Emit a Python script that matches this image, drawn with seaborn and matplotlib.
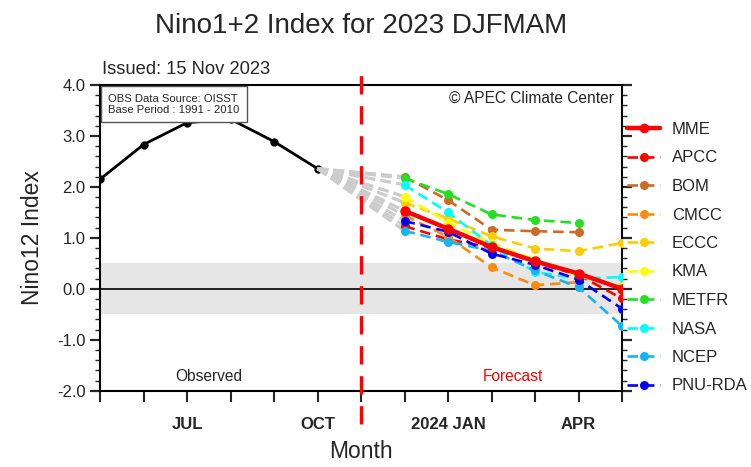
import numpy as np
import pandas as pd
import matplotlib
matplotlib.use("Agg")
import matplotlib.pyplot as plt
import seaborn as sns
from matplotlib.lines import Line2D
from matplotlib.ticker import MultipleLocator

# ---------------- data ----------------
month_pos = list(range(13))          # May 2023 ... May 2024
tick_labels = ["", "", "JUL", "", "", "OCT", "", "", "2024 JAN", "", "", "APR", ""]

obs_months = [0, 1, 2, 3, 4, 5]
obs_values = [2.15, 2.83, 3.26, 3.33, 2.89, 2.36]

fc_months = [7, 8, 9, 10, 11, 12]     # D J F M A M
models = ["MME", "APCC", "BOM", "CMCC", "ECCC", "KMA", "METFR", "NASA", "NCEP", "PNU-RDA"]
mme    = [1.53, 1.18, 0.82, 0.54, 0.30, 0.00]
apcc   = [1.23, 0.97, 0.81, 0.52, 0.27, -0.19]
bom    = [2.20, 1.74, 1.16, 1.13, 1.11, np.nan]
cmcc   = [1.44, 1.02, 0.42, 0.07, 0.13, np.nan]
eccc   = [1.69, 1.38, 1.03, 0.79, 0.74, 0.90]
kma    = [1.81, 1.30, 0.89, 0.57, 0.25, 0.05]
metfr  = [2.17, 1.86, 1.46, 1.35, 1.29, np.nan]
nasa   = [2.04, 1.50, 0.85, 0.33, 0.20, 0.23]
ncep   = [1.14, 0.92, 0.75, 0.36, 0.03, -0.73]
pnurda = [1.33, 1.12, 0.69, 0.47, 0.18, -0.39]
model_values = [mme, apcc, bom, cmcc, eccc, kma, metfr, nasa, ncep, pnurda]
colors = ["#ff0000", "#ff0000", "#cd6a28", "#ff8c10", "#ffcc00", "#ffff00",
          "#22e022", "#00ffff", "#18b4ee", "#0000ee"]

# ---------------- style ----------------
sns.set_style("ticks")
plt.rcParams["font.family"] = ["Liberation Sans", "DejaVu Sans"]
plt.rcParams["axes.unicode_minus"] = False

W, H = 751, 467
fig = plt.figure(figsize=(W / 100, H / 100), dpi=100)
ax_l, ax_r, ax_t, ax_b = 100, 622, 85, 390.7
ax = fig.add_axes([ax_l / W, 1 - ax_b / H, (ax_r - ax_l) / W, (ax_b - ax_t) / H])

ax.set_xlim(0, 12)
ax.set_ylim(-2, 4)

# shaded normal band and zero line
ax.axhspan(-0.5, 0.5, color="#e6e6e6", zorder=0, lw=0)
ax.axhline(0, color="black", lw=1.2, zorder=1)

# observed
sns.lineplot(x=obs_months, y=obs_values, ax=ax, color="black", lw=2.0,
             marker="o", markersize=6, markeredgewidth=0, zorder=3)

# grey fan from last observation to first forecast
for vals in model_values:
    ax.plot([obs_months[-1], fc_months[0]], [obs_values[-1], vals[0]],
            color="#cccccc", lw=2.3, linestyle=(0, (3.4, 1.6)), zorder=4,
            dash_capstyle="butt")

dash = (0, (4, 2.2))
order = list(range(1, len(models))) + [0]
for i in order:
    name, vals, c = models[i], model_values[i], colors[i]
    if name == "MME":
        kw = dict(lw=3.2, linestyle="-", markersize=7.5, zorder=7)
    else:
        kw = dict(lw=1.9, linestyle=dash, markersize=6.5, zorder=5)
    df = pd.DataFrame({"m": fc_months, "v": vals}).dropna()
    sns.lineplot(data=df, x="m", y="v", ax=ax, color=c, marker="o",
                 markeredgewidth=0, **kw)

handles = []
for i, name in enumerate(models):
    if name == "MME":
        handles.append(Line2D([], [], color=colors[i], lw=3.2, marker="o",
                              markersize=7, markeredgewidth=0))
    else:
        handles.append(Line2D([], [], color=colors[i], lw=1.9, linestyle=dash,
                              marker="o", markersize=6.5, markeredgewidth=0))

# vertical red dashed line (forecast start)
ax.axvline(6, ymin=-0.109, ymax=1.036, color="#ff0000", lw=2.4,
           linestyle=(0, (5.5, 3.5)), clip_on=False, zorder=8)

# ---------------- axes formatting ----------------
ax.set_xticks(month_pos)
ax.set_xticklabels(tick_labels, fontsize=12, fontweight="bold")
ax.yaxis.set_major_locator(MultipleLocator(1.0))
ax.yaxis.set_minor_locator(MultipleLocator(0.2))
ax.set_yticklabels([f"{v:.1f}" for v in ax.get_yticks()], fontsize=12)
ax.tick_params(axis="x", which="major", direction="out", length=8, width=1.5,
               pad=11, top=False, bottom=True)
ax.tick_params(axis="y", which="major", direction="out", length=7.5, width=1.6,
               left=True, right=True, labelright=False, pad=3)
ax.tick_params(axis="y", which="minor", direction="out", length=3.5, width=1.0,
               left=True, right=True)
for s in ax.spines.values():
    s.set_linewidth(1.5)
    s.set_color("black")

ax.set_xlabel("Month", fontsize=16.5, labelpad=6)
ax.set_ylabel("Nino12 Index", fontsize=16.5, labelpad=9)

# ---------------- texts ----------------
fig.text((ax_l + ax_r) / 2 / W, 1 - 26 / H, "Nino1+2 Index for 2023 DJFMAM",
         ha="center", va="center", fontsize=20)
fig.text(102 / W, 1 - 70 / H, "Issued: 15 Nov 2023", ha="left", va="center",
         fontsize=13.2)
ax.text(0.985, 0.955, "\u00a9 APEC Climate Center", transform=ax.transAxes,
        ha="right", va="center", fontsize=11.2)
ax.text(0.0155, 0.972, "OBS Data Source: OISST\nBase Period : 1991 - 2010",
        transform=ax.transAxes, ha="left", va="top", fontsize=8.1,
        linespacing=1.2, zorder=10,
        bbox=dict(boxstyle="square,pad=0.65", fc="white", ec="#555555", lw=1.0))
ax.text(2.5, -1.72, "Observed", ha="center", va="center", fontsize=11.2)
ax.text(9.5, -1.72, "Forecast", ha="center", va="center", fontsize=11.2,
        color="#ff0000")

# ---------------- legend ----------------
fig.legend(handles, models, loc="upper left",
           bbox_to_anchor=(627 / W, 1 - 122 / H), frameon=False,
           fontsize=12, handlelength=2.0, handletextpad=0.7,
           labelspacing=0.81, borderpad=0, borderaxespad=0)

fig.savefig("out.png", dpi=100)
